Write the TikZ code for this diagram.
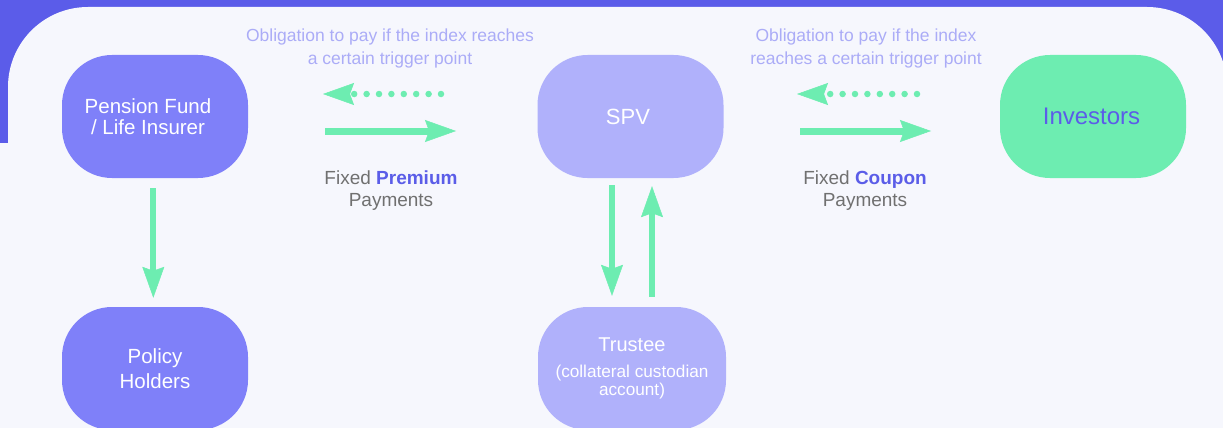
\documentclass[tikz,border=0pt]{standalone}
\usepackage{fontspec}
\setmainfont{Liberation Sans}
\usetikzlibrary{arrows.meta,calc}
\definecolor{bgpurple}{HTML}{5B5CE9}
\definecolor{panelc}{HTML}{F6F7FD}
\definecolor{nodeA}{HTML}{7F80F9}
\definecolor{nodeB}{HTML}{B0B1FB}
\definecolor{greenc}{HTML}{6DEDB1}
\definecolor{accent}{HTML}{5B5DE8}
\definecolor{obligc}{HTML}{ABACF7}
\definecolor{grayc}{HTML}{707070}
\begin{document}
\begin{tikzpicture}[x=1pt,y=-1pt,
  box/.style={rounded corners=50pt, minimum width=186pt, minimum height=123pt, inner sep=0pt, align=center, text=white, font=\fontsize{20.5}{21}\selectfont},
  garrow/.style={draw=greenc, line width=7pt, -{Stealth[length=31pt,width=22pt,inset=4pt,line width=0.5pt]}},
  varrow/.style={garrow, line width=6.2pt},
  gdots/.style={garrow, line width=6.5pt, line cap=round, dash pattern=on 0pt off 12.4pt},
  oblig/.style={text=obligc, align=center, inner sep=0pt, font=\fontsize{17.5}{23.3}\selectfont},
  pay/.style={text=grayc, align=center, inner sep=0pt, font=\fontsize{19}{22.7}\selectfont}]
\useasboundingbox (0,0) rectangle (1223,428);
\clip (0,0) rectangle (1223,428);
\fill[bgpurple] (0,0) rectangle (1223,428);
\fill[panelc, rounded corners=80pt] (8,7) rectangle (1227,560);
\fill[panelc] (0,143) rectangle (20,428);

\node[box, fill=nodeA] (pension) at (155,116.5) {Pension Fund\hspace*{14pt}\\/ Life Insurer\hspace*{14pt}};
\node[box, fill=nodeA, font=\fontsize{20.5}{25}\selectfont] (policy) at (155,368.5) {Policy\\Holders};
\node[box, fill=nodeB, font=\fontsize{22}{24}\selectfont] (spv) at (630.5,116.5) {SPV\hspace*{5pt}};
\node[box, fill=greenc, text=accent, font=\fontsize{24}{26}\selectfont] (inv) at (1093,116.5) {Investors\hspace*{3pt}};
\node[box, fill=nodeB, minimum width=188pt, font=\fontsize{20}{24}\selectfont] (trustee) at (632,368.5)
  {Trustee\\[2pt]\fontsize{17.2}{17}\selectfont (collateral custodian\\[-6.5pt]\fontsize{17.2}{17}\selectfont account)};

\node[oblig] (ob1) at (390,48.8) {Obligation to pay if the index reaches\\a certain trigger point};
\node[oblig] (ob2) at (866,48.8) {Obligation to pay if the index\\reaches a certain trigger point};
\node[pay] (pay1) at (391,190.7) {Fixed \textcolor{accent}{\bfseries Premium}\\Payments};
\node[pay] (pay2) at (865,190.7) {Fixed \textcolor{accent}{\bfseries Coupon}\\Payments};

\coordinate (lds) at (441,94);
\coordinate (lde) at (323,94);
\coordinate (lss) at (325,131);
\coordinate (lse) at (456,131);
\coordinate (rds) at (917,94);
\coordinate (rde) at (797,94);
\coordinate (rss) at (800,131);
\coordinate (rse) at (931,131);
\draw[gdots] (lds) -- (lde);
\draw[garrow] (lss) -- (lse);
\draw[gdots] (rds) -- (rde);
\draw[garrow] (rss) -- (rse);

\draw[varrow, shorten <=10pt, shorten >=9pt] ([xshift=-1.7pt]pension.south) -- ([xshift=-1.7pt]policy.north);
\coordinate (sd) at ([xshift=-18.5pt]spv.south);
\coordinate (su) at ([xshift=21.5pt]spv.south);
\draw[varrow, shorten <=7pt, shorten >=11pt] (sd) -- (sd |- trustee.north);
\draw[varrow, shorten <=10pt, shorten >=8pt] (su |- trustee.north) -- (su);
\end{tikzpicture}
\end{document}
